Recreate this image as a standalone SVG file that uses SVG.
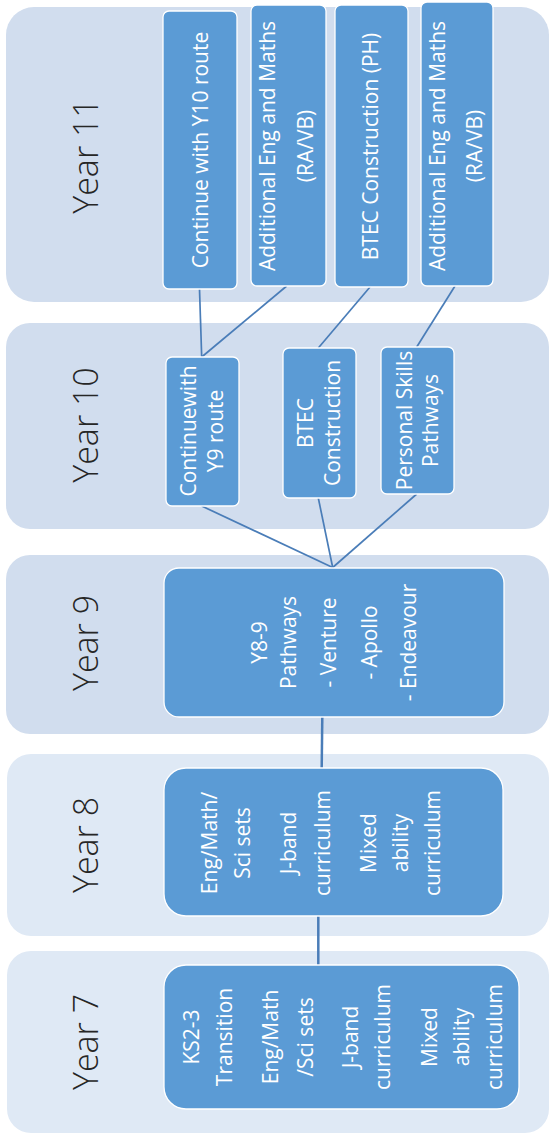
<svg xmlns="http://www.w3.org/2000/svg" width="549" height="1140" viewBox="0 0 549 1140">
<style>
.panelA{fill:#d1ddee}
.panelB{fill:#dfe9f5}
.node{fill:#5b9bd5;stroke:#ffffff;stroke-width:1.3}
.lbl{font-family:"Open Sans","Liberation Sans",sans-serif;font-size:34px;font-weight:300;fill:#262626;text-anchor:middle}
.nt{font-family:"Open Sans","Liberation Sans",sans-serif;font-size:21px;fill:#ffffff;text-anchor:middle}
.conn line{stroke:#4a7db8;stroke-width:1.7;fill:none}
.conn line.v{stroke-width:2.5}
</style>
<rect width="549" height="1140" fill="#ffffff"/>
<g id="panels">
  <g id="year11"><rect class="panelA" x="6" y="7" width="543" height="295" rx="28"/><text class="lbl" transform="translate(98,156) rotate(-90)">Year 11</text></g>
  <g id="year10"><rect class="panelA" x="6" y="323" width="543" height="206" rx="24"/><text class="lbl" transform="translate(98,425) rotate(-90)">Year 10</text></g>
  <g id="year9"><rect class="panelA" x="6" y="555" width="543" height="179" rx="24"/><text class="lbl" transform="translate(98,643) rotate(-90)">Year 9</text></g>
  <g id="year8"><rect class="panelB" x="7" y="754" width="542" height="182" rx="24"/><text class="lbl" transform="translate(98,845) rotate(-90)">Year 8</text></g>
  <g id="year7"><rect class="panelB" x="7" y="951" width="542" height="182" rx="24"/><text class="lbl" transform="translate(98,1042) rotate(-90)">Year 7</text></g>
</g>
<g id="connectors" class="conn">
  <line x1="199.5" y1="289" x2="201.7" y2="357"/>
  <line x1="286.7" y1="286" x2="201.7" y2="357"/>
  <line x1="370" y1="287" x2="318.3" y2="348"/>
  <line x1="455" y1="286" x2="416.7" y2="347"/>
  <line x1="201.7" y1="506" x2="332.7" y2="567.5"/>
  <line x1="318.3" y1="498" x2="332.7" y2="567.5"/>
  <line x1="416.7" y1="494" x2="332.7" y2="567.5"/>
  <line class="v" x1="322.3" y1="717" x2="321.7" y2="768"/>
  <line class="v" x1="318.3" y1="916" x2="318.3" y2="965"/>
</g>
<g id="y11-continue"><rect class="node" x="163" y="11" width="74" height="278" rx="6"/>
  <text class="nt" transform="translate(0,150) rotate(-90)"><tspan x="0" y="208">Continue with Y10 route</tspan></text></g>
<g id="y11-additional-1"><rect class="node" x="251" y="5" width="75" height="281" rx="6"/>
  <text class="nt" transform="translate(0,146) rotate(-90)"><tspan x="0" y="275">Additional Eng and Maths</tspan><tspan x="0" y="312.5">(RA/VB)</tspan></text></g>
<g id="y11-btec"><rect class="node" x="335" y="5" width="73" height="282" rx="6"/>
  <text class="nt" transform="translate(0,146.5) rotate(-90)"><tspan x="0" y="378">BTEC Construction (PH)</tspan></text></g>
<g id="y11-additional-2"><rect class="node" x="421" y="2" width="72" height="284" rx="6"/>
  <text class="nt" transform="translate(0,146) rotate(-90)"><tspan x="0" y="445">Additional Eng and Maths</tspan><tspan x="0" y="481.5">(RA/VB)</tspan></text></g>
<g id="y10-continue"><rect class="node" x="166" y="357" width="73" height="149" rx="6"/>
  <text class="nt" transform="translate(0,431) rotate(-90)"><tspan x="0" y="196">Continuewith</tspan><tspan x="0" y="223">Y9 route</tspan></text></g>
<g id="y10-btec"><rect class="node" x="283" y="348" width="73" height="150" rx="6"/>
  <text class="nt" transform="translate(0,423) rotate(-90)"><tspan x="0" y="313">BTEC</tspan><tspan x="0" y="340">Construction</tspan></text></g>
<g id="y10-personal"><rect class="node" x="381" y="347" width="73" height="147" rx="6"/>
  <text class="nt" transform="translate(0,420.5) rotate(-90)"><tspan x="0" y="412">Personal Skills</tspan><tspan x="0" y="438">Pathways</tspan></text></g>
<g id="y9-pathways"><rect class="node" x="164" y="568" width="340" height="149" rx="15"/>
  <text class="nt" transform="translate(0,642.5) rotate(-90)"><tspan x="0" y="266.5">Y8-9</tspan><tspan x="0" y="295.5">Pathways</tspan><tspan x="0" y="336">- Venture</tspan><tspan x="0" y="376.5">- Apollo</tspan><tspan x="0" y="416">- Endeavour</tspan></text></g>
<g id="y8-curriculum"><rect class="node" x="164" y="768" width="339" height="148" rx="22"/>
  <text class="nt" transform="translate(0,843) rotate(-90)"><tspan x="0" y="217">Eng/Math/</tspan><tspan x="0" y="250">Sci sets</tspan><tspan x="0" y="296">J-band</tspan><tspan x="0" y="330">curriculum</tspan><tspan x="0" y="376">Mixed</tspan><tspan x="0" y="408">ability</tspan><tspan x="0" y="440">curriculum</tspan></text></g>
<g id="y7-curriculum"><rect class="node" x="164" y="965" width="355" height="144" rx="22"/>
  <text class="nt" transform="translate(0,1037) rotate(-90)"><tspan x="0" y="199">KS2-3</tspan><tspan x="0" y="232">Transition</tspan><tspan x="0" y="278">Eng/Math</tspan><tspan x="0" y="312.5">/Sci sets</tspan><tspan x="0" y="357.5">J-band</tspan><tspan x="0" y="390">curriculum</tspan><tspan x="0" y="436.5">Mixed</tspan><tspan x="0" y="469">ability</tspan><tspan x="0" y="501.5">curriculum</tspan></text></g>
</svg>
